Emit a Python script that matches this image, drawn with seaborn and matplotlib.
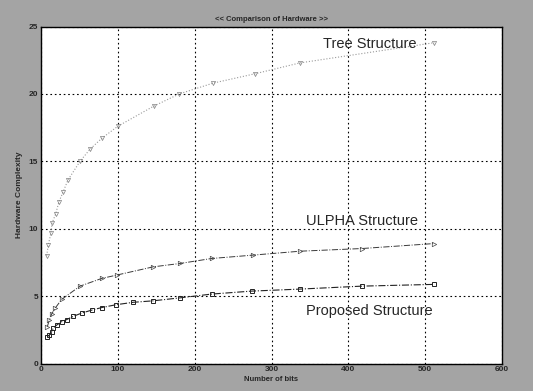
import matplotlib
matplotlib.use("Agg")
import matplotlib.pyplot as plt
import seaborn as sns
import pandas as pd

# Number of bits at each sample point
bits_tree = [7.4, 9.5, 13, 14.3, 19.1, 23.4, 28.6, 35, 50.8, 63.8, 79, 100, 147, 180, 224, 279, 337, 512]
tree = [8.0, 8.8, 9.7, 10.4, 11.1, 12.0, 12.7, 13.6, 15.0, 15.9, 16.7, 17.6, 19.1, 20.0, 20.8, 21.5, 22.3, 23.8]

bits_ulpha = [8.2, 10.8, 13.9, 18.2, 27, 50.8, 79, 98.6, 146, 181, 222, 276, 337, 418, 512]
ulpha = [2.73, 3.22, 3.67, 4.09, 4.76, 5.74, 6.31, 6.56, 7.17, 7.42, 7.79, 8.04, 8.33, 8.53, 8.9]

bits_prop = [8.2, 10.8, 13.9, 16, 20.4, 27, 33.5, 42, 53, 66, 79, 97.7, 120, 146, 181, 222, 274, 337, 418, 512]
proposed = [1.99, 2.11, 2.36, 2.63, 2.85, 3.10, 3.26, 3.50, 3.74, 3.96, 4.15, 4.36, 4.54, 4.65, 4.87, 5.15, 5.37, 5.52, 5.74, 5.87]

x_ticks = [0, 100, 200, 300, 400, 500, 600]
y_ticks = [0, 5, 10, 15, 20, 25]

title = "<< Comparison of Hardware >>"
x_label = "Number of bits"
y_label = "Hardware Complexity"

sns.set_style("white")
plt.rcParams["font.family"] = ["Liberation Sans", "DejaVu Sans"]

fig = plt.figure(figsize=(5.33, 3.91), dpi=100, facecolor="#a4a4a4")
ax = fig.add_axes([41 / 533, 1 - 363.5 / 391, (502 - 41) / 533, (363.5 - 26.5) / 391])
ax.set_facecolor("white")

df_tree = pd.DataFrame({"bits": bits_tree, "value": tree})
df_ulpha = pd.DataFrame({"bits": bits_ulpha, "value": ulpha})
df_prop = pd.DataFrame({"bits": bits_prop, "value": proposed})

sns.lineplot(data=df_tree, x="bits", y="value", ax=ax, color="#9a9a9a",
             linestyle=":", linewidth=0.8, marker="v", markersize=3,
             markerfacecolor="none", markeredgecolor="#808080", markeredgewidth=0.5)
sns.lineplot(data=df_ulpha, x="bits", y="value", ax=ax, color="#3a3a3a",
             linestyle="-.", linewidth=0.7, marker=">", markersize=3.2,
             markerfacecolor="none", markeredgecolor="#444444", markeredgewidth=0.5)
sns.lineplot(data=df_prop, x="bits", y="value", ax=ax, color="#222222",
             linestyle="-.", linewidth=0.8, marker="s", markersize=3.5,
             markerfacecolor="none", markeredgecolor="#222222", markeredgewidth=0.7)

ax.set_xlim(0, 600)
ax.set_ylim(0, 25)
ax.set_xticks(x_ticks)
ax.set_yticks(y_ticks)
ax.set_xticklabels([str(t) for t in x_ticks], fontsize=6, fontweight="bold")
ax.set_yticklabels([str(t) for t in y_ticks], fontsize=6, fontweight="bold")
ax.tick_params(direction="in", length=3, width=0.6, pad=2)
ax.grid(True, color="black", linestyle=(0, (1.5, 2.5)), linewidth=0.8)
for s in ax.spines.values():
    s.set_color("black")
    s.set_linewidth(1.0)

ax.set_title(title, fontsize=5.5, fontweight="bold", pad=4)
ax.set_xlabel(x_label, fontsize=5.5, fontweight="bold", labelpad=2)
ax.set_ylabel(y_label, fontsize=6, fontweight="bold", labelpad=4)

ax.text(367, 23.7, "Tree Structure", fontsize=10.5, ha="left", va="center")
ax.text(345, 10.6, "ULPHA Structure", fontsize=10.5, ha="left", va="center")
ax.text(345, 3.9, "Proposed Structure", fontsize=10.5, ha="left", va="center")

fig.savefig("out.png", dpi=100, facecolor=fig.get_facecolor())
